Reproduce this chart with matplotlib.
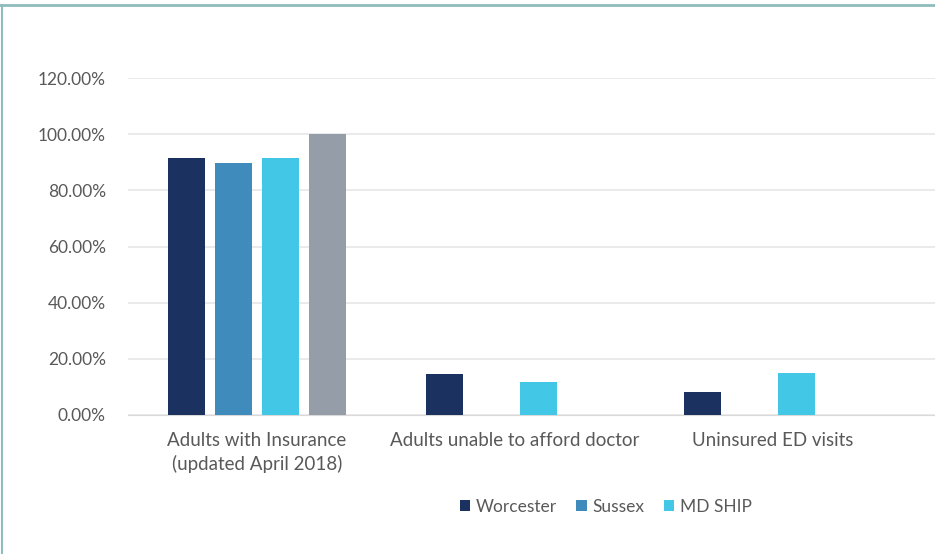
import numpy as np
import matplotlib
matplotlib.use("Agg")
import matplotlib.pyplot as plt
from matplotlib.lines import Line2D
from matplotlib.ticker import FuncFormatter

plt.rcParams['font.family'] = ['Lato', 'DejaVu Sans']

categories = ["Adults with Insurance\n(updated April 2018)",
              "Adults unable to afford doctor",
              "Uninsured ED visits"]
series_names = ["Worcester", "Sussex", "MD SHIP", ""]
worcester = [0.915, 0.146, 0.081]
sussex = [0.896, np.nan, np.nan]
md_ship = [0.915, 0.118, 0.151]
target = [1.00, np.nan, np.nan]
y_ticks = [0.0, 0.2, 0.4, 0.6, 0.8, 1.0, 1.2]

colors = ["#1b3160", "#3f8cbc", "#42c8e6", "#959ea8"]
series = [worcester, sussex, md_ship, target]

fig = plt.figure(figsize=(9.35, 5.54), dpi=100)
# plot area runs off the right edge (image is cropped there)
ax = fig.add_axes([0.137, 0.251, 0.863, 0.608])

x = np.arange(len(categories))
step = 0.182
width = 0.143
for i, (vals, c) in enumerate(zip(series, colors)):
    off = (i - 1.5) * step
    ax.bar(x + off, vals, width=width, color=c, zorder=3,
           label=series_names[i] if series_names[i] else None)

ax.set_xlim(-0.5, -0.5 + (935 - 128) / 258)
ax.set_ylim(0, 1.2)
ax.set_yticks(y_ticks)
ax.yaxis.set_major_formatter(FuncFormatter(lambda v, p: f"{v*100:.2f}%"))
ax.set_xticks(x)
ax.set_xticklabels(categories, fontsize=13.5, color="#595959", linespacing=1.45)
ax.tick_params(axis='y', labelsize=12.5, labelcolor="#595959", length=0, pad=16)
ax.tick_params(axis='x', length=0, pad=12)
ax.grid(axis='y', color="#e6e6e6", linewidth=1.2, zorder=0)
for s in ["top", "right", "left"]:
    ax.spines[s].set_visible(False)
ax.spines["bottom"].set_color("#d9d9d9")

handles, labels = ax.get_legend_handles_labels()
leg = fig.legend(handles[:3], labels[:3], loc="center", bbox_to_anchor=(0.648, 0.085),
                 ncol=3, frameon=False, fontsize=12.5, handlelength=0.6, handleheight=0.6,
                 columnspacing=1.1, handletextpad=0.35)
for t in leg.get_texts():
    t.set_color("#595959")

# teal frame along top and left edges
fig.add_artist(Line2D([0, 1], [1 - 5/554, 1 - 5/554], transform=fig.transFigure,
                      color="#8fbcbc", linewidth=2))
fig.add_artist(Line2D([1.5/935, 1.5/935], [0, 1 - 5/554], transform=fig.transFigure,
                      color="#8fbcbc", linewidth=1.5))

fig.savefig("out.png", dpi=100)
